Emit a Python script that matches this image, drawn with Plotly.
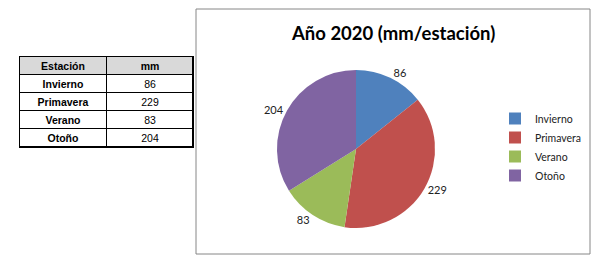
import plotly.graph_objects as go

seasons = ["Invierno", "Primavera", "Verano", "Otoño"]
mm = [86, 229, 83, 204]
colors = ["#4f81bd", "#c0504d", "#9bbb59", "#8064a2"]
title = "Año 2020 (mm/estación)"
col_headers = ["Estación", "mm"]

W, H = 597, 261

def px_x(v):
    return v / W

def px_y(v):
    return 1 - v / H

# table built from the data arrays (rendered as a heatmap grid)
rows_text = [[f"<b>{h}</b>" for h in col_headers]] + \
    [[f"<b>{s}</b>", str(v)] for s, v in zip(seasons, mm)]
rows_z = [[1, 1]] + [[0, 0] for _ in seasons]
row_idx = list(range(len(rows_text)))

fig = go.Figure()

fig.add_trace(go.Heatmap(
    x=[0, 1], y=row_idx, z=rows_z, text=rows_text, texttemplate="%{text}",
    textfont=dict(family="Liberation Sans, Arial", size=10.5, color="black"),
    colorscale=[[0, "white"], [1, "#d9d9d9"]], zmin=0, zmax=1, showscale=False,
    xgap=1, ygap=1, hoverinfo="skip", xaxis="x", yaxis="y",
))

fig.add_trace(go.Pie(
    labels=seasons, values=mm, sort=False, direction="clockwise", rotation=0,
    marker=dict(colors=colors),
    textinfo="value", textposition="outside",
    outsidetextfont=dict(family="Lato, sans-serif", size=11, color="#222"),
    domain=dict(x=[px_x(277), px_x(435)], y=[px_y(228), px_y(70)]),
    showlegend=True, hoverinfo="label+value",
))

fig.update_layout(
    width=W, height=H, margin=dict(l=0, r=0, t=0, b=0, autoexpand=False),
    paper_bgcolor="white", plot_bgcolor="black",
    font=dict(family="Lato, sans-serif", color="black"),
    xaxis=dict(domain=[px_x(20), px_x(193)], range=[-0.5, 1.5], showgrid=False,
               zeroline=False, showticklabels=False, ticks="", fixedrange=True,
               showline=True, mirror=True, linecolor="black", linewidth=1),
    yaxis=dict(domain=[px_y(147), px_y(57)], range=[4.5, -0.5], showgrid=False,
               zeroline=False, showticklabels=False, ticks="", fixedrange=True,
               showline=True, mirror=True, linecolor="black", linewidth=1),
    annotations=[dict(text=f"<b>{title}</b>", x=px_x(393), y=px_y(33),
                      xref="paper", yref="paper", xanchor="center", yanchor="middle",
                      showarrow=False, font=dict(family="Lato, sans-serif", size=18.5, color="black"))],
    legend=dict(x=px_x(495), y=px_y(104), xanchor="left", yanchor="top",
                font=dict(family="Lato, sans-serif", size=10.5, color="#222"),
                itemwidth=30, bgcolor="rgba(0,0,0,0)"),
    shapes=[dict(type="rect", xref="paper", yref="paper",
                 x0=px_x(196), x1=px_x(590), y0=px_y(254), y1=px_y(9),
                 line=dict(color="#868686", width=1))],
)

fig.write_html("out.html")
